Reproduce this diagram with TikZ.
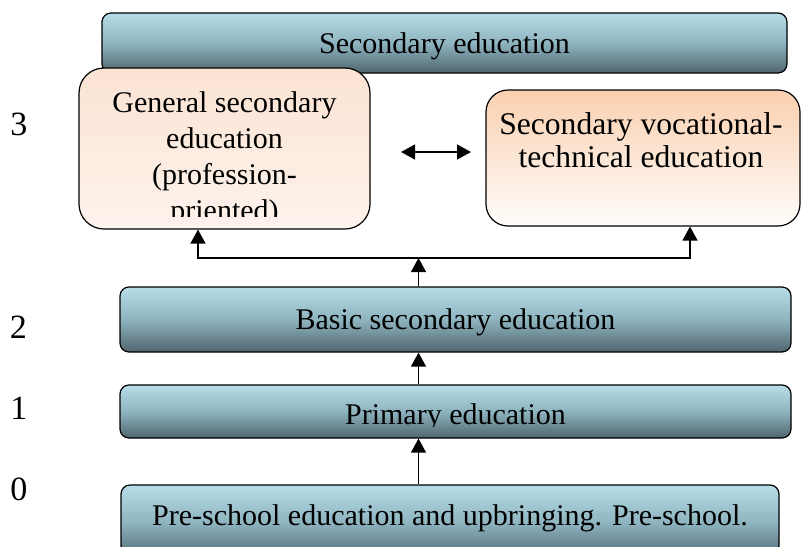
\documentclass[tikz,border=0pt]{standalone}
\usepackage{fontspec}
\setmainfont{Liberation Serif}
\usetikzlibrary{arrows.meta}
\definecolor{bluetop}{RGB}{182,221,232}
\definecolor{bluemid}{RGB}{142,180,192}
\definecolor{bluebot}{RGB}{80,101,110}
\definecolor{peachtop}{RGB}{250,208,176}
\definecolor{peachbot}{RGB}{255,253,251}
\definecolor{creamtop}{RGB}{251,227,211}
\definecolor{creambot}{RGB}{253,243,236}
\begin{document}
\begin{tikzpicture}[x=0.5pt,y=-0.5pt,
    levelbox/.style={draw,line width=0.6pt,rounded corners=4.5pt,top color=bluetop,bottom color=bluebot,middle color=bluemid,
      font=\fontsize{15}{18}\selectfont,inner sep=0pt,text depth=0pt},
    genbox/.style={draw,line width=0.6pt,rounded corners=12.5pt,top color=creamtop,bottom color=creambot},
    vocbox/.style={draw,line width=0.6pt,rounded corners=11pt,top color=peachtop,bottom color=peachbot},
    boxtext/.style={font=\fontsize{15}{18}\selectfont,align=center,inner sep=0pt},
    levelnum/.style={font=\fontsize{17}{20}\selectfont},
    uparrow/.style={-{Triangle[length=7pt,width=7.5pt]},line width=0.65pt},
    bothways/.style={{Triangle[length=7pt,width=7.5pt]}-{Triangle[length=7pt,width=7.5pt]},line width=0.65pt}]
  \useasboundingbox (0,0) rectangle (801,546);
  \clip (0,0) rectangle (801,546);
  \node[levelbox,minimum width=342.5pt,minimum height=30pt] (secondary) at (444.5,43) {Secondary education};
  \node[genbox,minimum width=145.5pt,minimum height=80.5pt] (general) at (224.5,148.5) {};
  \begin{scope}
    \clip (79,68) rectangle (370,216);
    \node[boxtext,anchor=north] (gentext) at (224.5,91.5) {General secondary\\education\\(profession-\\priented)};
  \end{scope}
  \node[vocbox,minimum width=157pt,minimum height=68pt] (vocational) at (643,158) {};
  \node[boxtext,font=\fontsize{15.8}{16.5}\selectfont,anchor=north] (voctext) at (641,112.5) {Secondary vocational-\\technical education};
  \node[levelbox,minimum width=335.5pt,minimum height=32.5pt] (basic) at (455.5,319.5) {Basic secondary education};
  \node[levelbox,minimum width=335.5pt,minimum height=26.5pt] (primary) at (455.5,411.5) {};
  \begin{scope}
    \clip (120,385) rectangle (791,426);
    \node[boxtext,anchor=base] (primtext) at (455.5,424) {Primary education};
  \end{scope}
  \node[levelbox,minimum width=329pt,minimum height=37.5pt] (preschool) at (450,522.5) {};
  \node[boxtext,anchor=base] (pretext) at (450,525) {Pre-school education and upbringing. Pre-school.};
  \node[levelnum] (lvthree) at (19,124.5) {3};
  \node[levelnum] (lvtwo) at (18.5,327) {2};
  \node[levelnum] (lvone) at (19,408) {1};
  \node[levelnum] (lvzero) at (19,489) {0};
  \coordinate (split) at (418.5,258);
  \coordinate (genfoot) at (198,258);
  \coordinate (vocfoot) at (690,258);
  \coordinate (swapleft) at (401,152);
  \coordinate (swapright) at (471,152);
  \draw[uparrow] (preschool.north -| split) -- (primary.south -| split);
  \draw[uparrow] (primary.north -| split) -- (basic.south -| split);
  \draw[uparrow] (basic.north -| split) -- (split);
  \draw[uparrow] (split) -- (genfoot) -- (genfoot |- general.south);
  \draw[uparrow] (split) -- (vocfoot) -- (vocfoot |- vocational.south);
  \draw[bothways] (swapleft) -- (swapright);
\end{tikzpicture}
\end{document}
